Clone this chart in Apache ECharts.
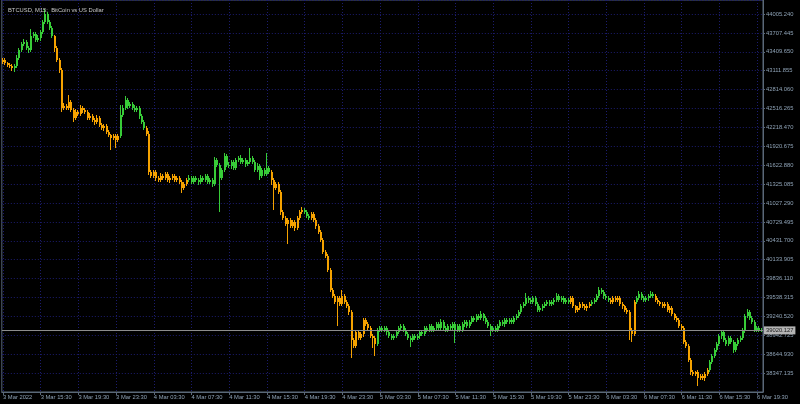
<!DOCTYPE html>
<html><head><meta charset="utf-8">
<script src="https://cdn.jsdelivr.net/npm/echarts@6/dist/echarts.min.js"></script>
<style>html,body{margin:0;padding:0;background:#000;}#c{width:800px;height:404px;}</style>
</head><body><div id="c"></div>
<script>
const chartTitle = 'BTCUSD, M15:  BitCoin vs US Dollar';
const tickLabels = ['3 Mar 2022','3 Mar 15:30','3 Mar 19:30','3 Mar 23:30','4 Mar 03:30','4 Mar 07:30','4 Mar 11:30','4 Mar 15:30','4 Mar 19:30','4 Mar 23:30','5 Mar 03:30','5 Mar 07:30','5 Mar 11:30','5 Mar 15:30','5 Mar 19:30','5 Mar 23:30','6 Mar 03:30','6 Mar 07:30','6 Mar 11:30','6 Mar 15:30','6 Mar 19:30'];
const priceMin = 38049.34;
const priceMax = 44226;
const priceStep = 297.795;
const lastPrice = 39020.127;
const firstOpen = 43250;
const closes = [
43280,43233,43202,43186,43154,43186,43312,43438,43533,43564,
43470,43438,43659,43690,43596,43627,43722,43879,44005,43879,
43785,43659,43470,43280,43123,42524,42555,42524,42618,42492,
42366,42461,42429,42524,42492,42461,42366,42398,42335,42303,
42366,42256,42209,42240,42146,42098,42051,42083,42020,42083,
42414,42524,42650,42555,42587,42524,42492,42524,42398,42303,
42209,42114,41515,41452,41515,41421,41389,41452,41421,41484,
41389,41421,41452,41389,41421,41358,41263,41326,41389,41421,
41358,41421,41389,41358,41421,41389,41452,41358,41389,41326,
41704,41626,41421,41547,41767,41626,41610,41673,41578,41704,
41736,41673,41704,41641,41673,41736,41673,41547,41610,41452,
41547,41484,41578,41515,41389,41263,41326,41200,40885,40790,
40696,40759,40664,40727,40633,40790,40885,40916,40885,40822,
40790,40853,40759,40664,40570,40444,40254,40191,39971,39656,
39561,39466,39530,39435,39561,39466,39403,39309,38868,38773,
38994,38899,38962,39183,39120,39057,38931,38899,38805,39025,
39057,39025,39057,38994,38931,38899,38931,38994,39057,39088,
39025,38962,38899,38868,38931,38899,38931,38994,38962,39057,
39025,39088,39025,39057,39120,39057,39151,39057,39025,39088,
39057,39120,39025,39088,39025,39120,39151,39088,39151,39214,
39183,39246,39214,39277,39214,39151,39088,39025,39057,39025,
39088,39151,39120,39183,39151,39183,39151,39214,39246,39309,
39403,39435,39530,39498,39466,39530,39435,39340,39372,39403,
39435,39466,39435,39466,39498,39561,39498,39530,39466,39498,
39466,39530,39403,39340,39372,39435,39403,39372,39403,39435,
39466,39498,39561,39656,39624,39561,39530,39498,39466,39530,
39498,39530,39435,39403,39340,39309,39025,38962,39466,39530,
39593,39530,39498,39530,39561,39593,39561,39498,39466,39435,
39403,39435,39340,39372,39277,39214,39183,39088,39057,38836,
38773,38552,38363,38332,38363,38269,38300,38269,38332,38395,
38521,38615,38710,38805,38931,38994,38868,38805,38899,38836,
38710,38805,38868,38899,39025,39246,39309,39214,39151,39025,
39057,39025,39020.127
];
const upperWick = [
30,25,20,35,25,30,40,25,30,47,
25,30,110,35,25,40,30,35,79,30,
25,35,20,30,25,30,45,35,110,25,
30,40,25,47,30,25,35,40,25,30,
45,25,30,35,25,30,20,35,25,30,
158,40,63,30,35,25,40,30,25,35,
30,25,40,30,35,25,30,45,25,30,
35,25,30,40,25,30,35,25,30,40,
25,35,30,25,40,30,35,25,30,35,
47,30,35,25,47,30,40,35,25,30,
35,40,25,30,35,158,30,25,40,30,
35,25,236,30,25,30,35,40,25,30,
35,30,25,40,30,35,25,47,30,35,
25,30,40,25,35,30,25,30,35,40,
30,25,35,30,95,25,30,35,25,40,
30,35,25,40,30,25,35,30,25,35,
30,25,35,30,25,40,30,25,35,30,
25,30,35,25,30,40,25,30,35,25,
30,35,25,40,30,25,47,30,35,25,
30,25,35,30,40,25,30,35,25,30,
35,25,30,47,25,30,35,25,30,40,
25,30,35,25,30,40,25,35,30,25,
40,30,79,25,35,30,25,40,30,35,
25,30,35,40,25,47,30,25,35,30,
25,35,30,25,40,30,25,35,30,25,
30,35,25,40,30,25,35,30,25,35,
30,25,35,30,25,40,30,25,35,30,
47,30,25,35,30,40,25,30,35,25,
30,35,25,40,30,25,35,30,25,35,
30,25,35,30,25,40,30,35,25,30,
35,30,25,40,30,35,25,30,40,25,
30,35,25,30,40,25,47,30,35,25,
30,25,30
];
const lowerWick = [
25,35,30,25,40,63,30,25,35,30,
30,47,25,35,30,25,40,30,25,35,
30,25,63,35,40,63,30,25,35,30,
63,25,35,30,40,25,30,35,25,40,
30,35,25,40,30,35,190,30,126,35,
30,25,35,40,30,25,35,30,40,25,
35,30,47,35,25,40,30,25,35,30,
25,40,30,35,25,30,79,35,30,25,
35,30,25,40,30,35,25,30,35,40,
30,35,536,30,25,35,30,40,25,35,
30,25,35,40,30,25,35,30,25,63,
30,35,25,30,79,347,30,35,40,30,
35,315,30,25,40,30,35,25,30,35,
30,25,35,40,30,35,25,30,35,25,
35,30,378,35,25,30,35,40,284,30,
35,30,25,40,30,35,25,158,189,30,
35,25,30,40,25,35,30,25,35,30,
30,35,25,110,30,25,35,40,30,25,
35,30,25,30,40,25,30,35,25,30,
35,25,205,30,35,25,40,30,25,35,
30,25,35,30,40,25,30,95,35,30,
25,35,30,40,25,30,35,25,30,35,
30,25,35,40,30,35,25,30,35,40,
25,30,35,25,40,30,35,25,30,35,
30,25,35,40,30,25,35,30,40,25,
35,30,25,30,35,40,25,30,35,30,
25,35,30,40,25,30,158,126,35,30,
25,35,30,25,40,30,35,25,30,35,
30,25,35,40,30,25,35,30,40,35,
30,35,40,30,35,126,30,25,40,30,
35,30,25,30,35,40,25,30,35,30,
40,30,35,25,30,40,30,35,25,30,
25,30,30
];
const trendSegments = [
  [0,4,'down'],[5,21,'up'],[22,49,'down'],[50,60,'up'],[61,78,'down'],
  [79,113,'up'],[114,127,'down'],[128,130,'up'],[131,158,'down'],
  [159,240,'up'],[241,249,'down'],[250,257,'up'],[258,268,'down'],
  [269,276,'up'],[277,299,'down'],[300,322,'up']
];

const UP = '#38cc38', DOWN = '#f5a200';
const N = closes.length;
const mon = ['Jan','Feb','Mar','Apr','May','Jun','Jul','Aug','Sep','Oct','Nov','Dec'];
const pad = n => (n < 10 ? '0' : '') + n;
const t0 = Date.UTC(2022, 2, 3, 11, 30);
const categories = [];
for (let i = 0; i < N; i++) {
  const d = new Date(t0 + i * 900000);
  categories.push(d.getUTCDate() + ' ' + mon[d.getUTCMonth()] + ' ' + pad(d.getUTCHours()) + ':' + pad(d.getUTCMinutes()));
}
const trend = new Array(N).fill('up');
trendSegments.forEach(s => { for (let i = s[0]; i <= s[1]; i++) trend[i] = s[2]; });
// rows: [index, open, close, low, high, isUp]
const ohlc = closes.map((c, i) => {
  const o = i ? closes[i - 1] : firstOpen;
  return [i, o, c, Math.min(o, c) - lowerWick[i], Math.max(o, c) + upperWick[i], trend[i] === 'up' ? 1 : 0];
});

function renderCandle(params, api) {
  const i = api.value(0);
  const pO = api.coord([i, api.value(1)]);
  const pC = api.coord([i, api.value(2)]);
  const pL = api.coord([i, api.value(3)]);
  const pH = api.coord([i, api.value(4)]);
  const col = api.value(5) ? UP : DOWN;
  const x = Math.round(pO[0]);
  const top = Math.round(Math.min(pO[1], pC[1]));
  const bot = Math.round(Math.max(pO[1], pC[1]));
  const hi = Math.round(pH[1]), lo = Math.round(pL[1]);
  return {
    type: 'group',
    children: [
      { type: 'rect', shape: { x: x - 1, y: hi, width: 1, height: Math.max(1, lo - hi) }, style: { fill: col } },
      { type: 'rect', shape: { x: x - 1, y: top, width: 2, height: Math.max(1, bot - top) }, style: { fill: col } }
    ]
  };
}

const AX = '#5a6878', TXT = '#8ea2b6', GRID = '#1c1c6e';
const every16 = (idx) => idx % 16 === 0;
const chart = echarts.init(document.getElementById('c'), null, { renderer: 'canvas' });
chart.setOption({
  backgroundColor: '#000',
  animation: false,
  title: { text: chartTitle, left: 3, top: 2, textStyle: { color: '#c8c8c8', fontSize: 5.8, fontWeight: 'normal', fontFamily: 'Liberation Sans' } },
  grid: { left: 0, top: 0, right: 37, bottom: 12, show: true, borderColor: AX, borderWidth: 1 },
  xAxis: {
    type: 'category', data: categories, boundaryGap: true,
    axisLine: { show: true, lineStyle: { color: AX } },
    axisTick: { show: true, alignWithLabel: true, interval: every16, length: 3, lineStyle: { color: AX } },
    axisLabel: { interval: every16, formatter: (v, idx) => tickLabels[idx / 16], color: TXT, fontSize: 5.8, fontFamily: 'Liberation Sans', align: 'left', margin: 2 },
    splitLine: { show: true, alignWithLabel: true, interval: every16, lineStyle: { color: GRID, type: [1, 2] } }
  },
  yAxis: {
    type: 'value', position: 'right', min: priceMin, max: priceMax, interval: priceStep,
    axisLine: { show: true, lineStyle: { color: AX } },
    axisTick: { show: true, length: 2, lineStyle: { color: AX } },
    axisLabel: { color: TXT, fontSize: 5.8, fontFamily: 'Liberation Sans', margin: 3, showMinLabel: false, showMaxLabel: false, formatter: v => v.toFixed(3) },
    splitLine: { show: true, lineStyle: { color: GRID, type: [1, 2] } }
  },
  series: [{
    type: 'custom', data: ohlc, renderItem: renderCandle,
    encode: { x: 0, y: [1, 2, 3, 4] },
    silent: true,
    markLine: {
      symbol: 'none', silent: true, animation: false,
      data: [{ yAxis: lastPrice }],
      lineStyle: { color: '#8c8c8c', type: 'solid', width: 1 },
      label: { show: true, position: 'end', distance: 1, formatter: () => lastPrice.toFixed(3), backgroundColor: '#b4b4b4', color: '#1a1a1a', fontSize: 5.8, fontFamily: 'Liberation Sans', padding: [1, 2, 1, 2] }
    }
  }]
});
</script></body></html>
